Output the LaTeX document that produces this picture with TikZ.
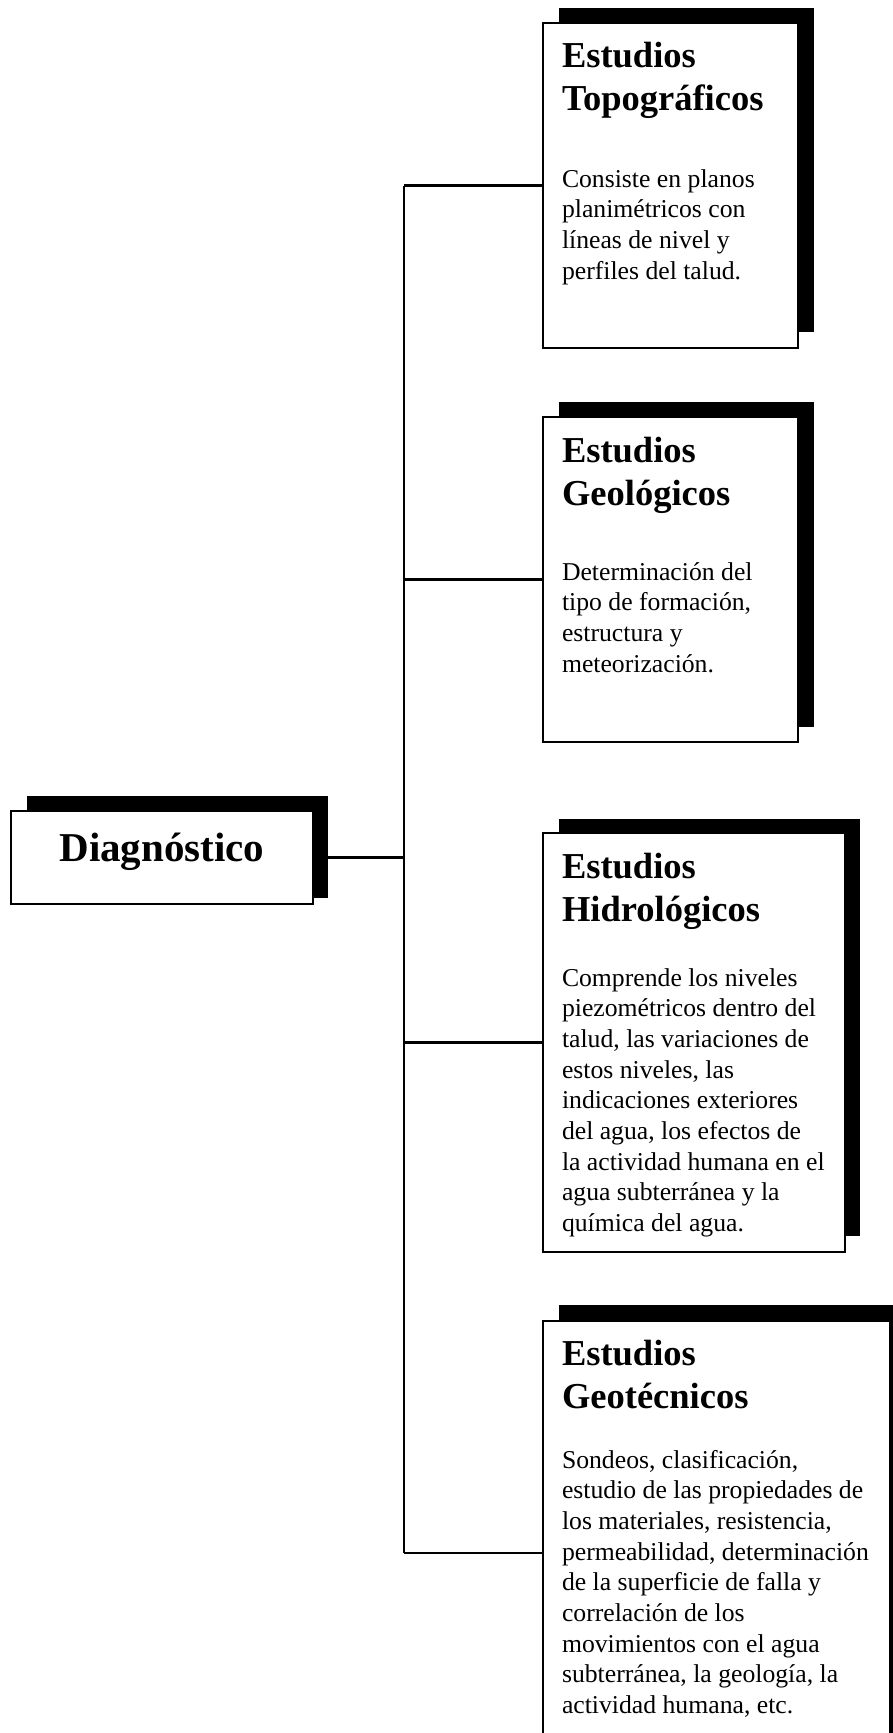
\documentclass[tikz,border=0pt]{standalone}
\usepackage{fontspec}
\setmainfont{Liberation Serif}
\tikzset{
  shadowbox/.style={fill=black, draw=none, inner sep=0pt, outer sep=0pt, anchor=north west},
  whitebox/.style={fill=white, draw=black, line width=1.7pt, inner sep=0pt, outer sep=0pt, anchor=north west},
  conn/.style={line width=2.2pt, draw=black},
  txt/.style={anchor=base west, inner sep=0pt, outer sep=0pt}
}
\newcommand{\ttltext}[1]{\parbox[t]{330pt}{\raggedright\fontsize{36.5}{43}\selectfont\bfseries #1}}
\newcommand{\bodytext}[1]{\parbox[t]{340pt}{\raggedright\fontsize{25.7}{30.7}\selectfont #1}}
\begin{document}
\begin{tikzpicture}[x=1pt,y=-1pt]
\useasboundingbox (0,0) rectangle (893,1733);
\clip (0,0) rectangle (893,1733);
\fill[white] (0,0) rectangle (893,1733);

% Diagnostico
\node[shadowbox, minimum width=301pt, minimum height=102pt] (dshadow) at (27,796) {};
\node[whitebox, minimum width=302pt, minimum height=93pt] (diag) at (11,811) {};
\node[anchor=base, inner sep=0pt] (diagtext) at (162,861) {\fontsize{41}{49}\selectfont\bfseries Diagnóstico};

% Topograficos
\node[shadowbox, minimum width=255pt, minimum height=324pt] (tshadow) at (559,8) {};
\node[whitebox, minimum width=255pt, minimum height=325pt] (topo) at (543,23) {};
\node[txt] (topottl) at (562,67) {\ttltext{Estudios\\Topográficos}};
\node[txt] (topobody) at (562,187) {\bodytext{Consiste en planos\\planimétricos con\\líneas de nivel y\\perfiles del talud.}};

% Geologicos
\node[shadowbox, minimum width=255pt, minimum height=325pt] (gshadow) at (559,402) {};
\node[whitebox, minimum width=255pt, minimum height=325pt] (geo) at (543,417) {};
\node[txt] (geottl) at (562,462) {\ttltext{Estudios\\Geológicos}};
\node[txt] (geobody) at (562,580) {\bodytext{Determinación del\\tipo de formación,\\estructura y\\meteorización.}};

% Hidrologicos
\node[shadowbox, minimum width=301pt, minimum height=417pt] (hshadow) at (559,819) {};
\node[whitebox, minimum width=302pt, minimum height=419pt] (hidro) at (543,833) {};
\node[txt] (hidrottl) at (562,878) {\ttltext{Estudios\\Hidrológicos}};
\node[txt] (hidrobody) at (562,986) {\bodytext{Comprende los niveles\\piezométricos dentro del\\talud, las variaciones de\\estos niveles, las\\indicaciones exteriores\\del agua, los efectos de\\la actividad humana en el\\agua subterránea y la\\química del agua.}};

% Geotecnicos
\node[shadowbox, minimum width=360pt, minimum height=464pt] (ktshadow) at (559,1305) {};
\node[whitebox, minimum width=347pt, minimum height=464pt] (geot) at (543,1321) {};
\node[txt] (geotttl) at (562,1365) {\ttltext{Estudios\\Geotécnicos}};
\node[txt] (geotbody) at (562,1468) {\bodytext{Sondeos, clasificación,\\estudio de las propiedades de\\los materiales, resistencia,\\permeabilidad, determinación\\de la superficie de falla y\\correlación de los\\movimientos con el agua\\subterránea, la geología, la\\actividad humana, etc.}};

% connectors
\coordinate (trunk) at (404,857);
\draw[conn] (diag.east -| dshadow.east) -- (diag.east -| trunk);
\draw[conn] (topo.west -| trunk) -- (geot.west -| trunk);
\draw[conn] (topo.west -| trunk) -- (topo.west);
\draw[conn] (geo.west -| trunk) -- (geo.west);
\draw[conn] (hidro.west -| trunk) -- (hidro.west);
\draw[conn] (geot.west -| trunk) -- (geot.west);
\end{tikzpicture}
\end{document}
